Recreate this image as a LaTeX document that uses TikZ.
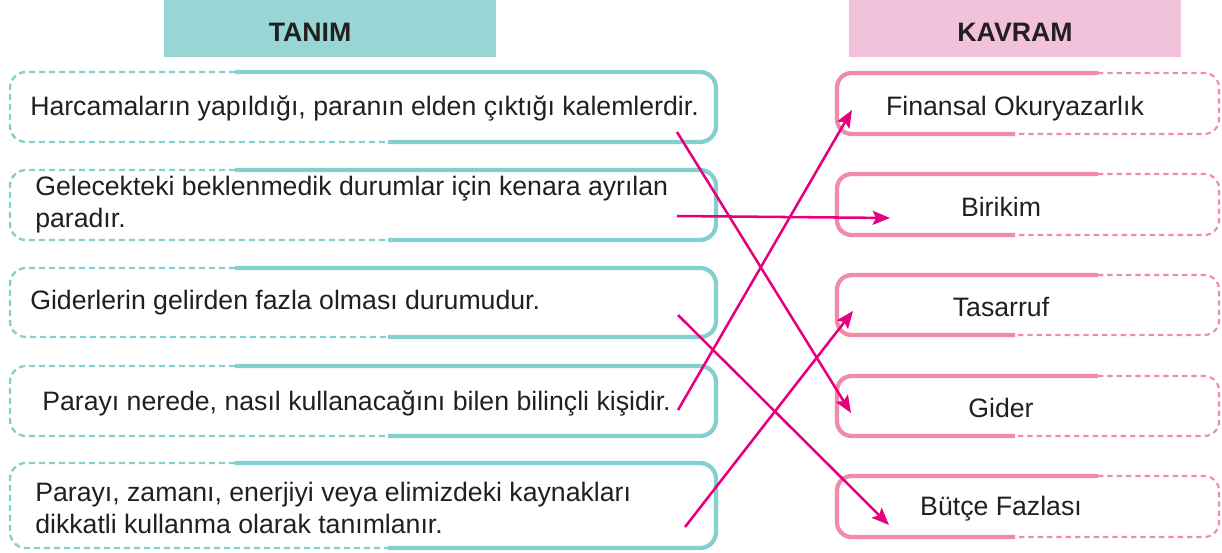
\documentclass[tikz,border=0pt]{standalone}
\usepackage{fontspec}
\setmainfont{Liberation Sans}
\usepackage{xcolor}
\usetikzlibrary{arrows.meta}

\definecolor{tanimrenk}{HTML}{97D6D5}
\definecolor{kavramrenk}{HTML}{F2C1DA}
\definecolor{tanimcizgi}{HTML}{84D0CF}
\definecolor{kavramcizgi}{HTML}{F28BA8}
\definecolor{okrenk}{HTML}{E6007E}
\definecolor{yazirenk}{HTML}{231F20}

\tikzset{
  tanimduz/.style={draw=tanimcizgi, line width=3.2pt, rounded corners=12pt},
  tanimkesik/.style={draw=tanimcizgi, line width=1.8pt, dash pattern={on 4.5pt off 3pt}, rounded corners=12pt},
  kavramduz/.style={draw=kavramcizgi, line width=3.2pt, rounded corners=11pt},
  kavramkesik/.style={draw=kavramcizgi, line width=1.6pt, dash pattern={on 4pt off 3pt}, rounded corners=11pt},
  yazi/.style={inner sep=0pt, text=yazirenk, font=\fontsize{20}{24}\selectfont},
  baslik/.style={inner sep=0pt, text=yazirenk, font=\fontsize{20}{24}\selectfont\bfseries},
  eslesme/.style={draw=okrenk, line width=1.9pt, -{Stealth[length=13pt,width=10.5pt,inset=2.5pt]}}
}

\begin{document}
\begin{tikzpicture}[x=0.75pt,y=0.75pt,yscale=-1,xscale=1]
\useasboundingbox (0,0) rectangle (1222,553);

%Headers
\fill[tanimrenk] (164,0) rectangle (496,57);
\fill[kavramrenk] (849,0) rectangle (1181,57);
\node (tanim) [baslik, anchor=base] at (310,41.5) {TANIM};
\node (kavram) [baslik, anchor=base] at (1015,41.5) {KAVRAM};

%Left boxes (dashed on the left, solid on the right)
\foreach \t/\b in {72/142,170/240,268/337,366/436,463/548}{
  \draw[tanimkesik] (235,\t) -- (10,\t) -- (10,\b) -- (388,\b);
  \draw[tanimduz] (235,\t) -- (716,\t) -- (716,\b) -- (388,\b);
}

%Right boxes (solid on the left, dashed on the right)
\foreach \t/\b in {73/134,174/235,275/335,376/436,476/537}{
  \draw[kavramkesik] (1098,\t) -- (1219,\t) -- (1219,\b) -- (1015,\b);
  \draw[kavramduz] (1098,\t) -- (837,\t) -- (837,\b) -- (1015,\b);
}

% Text Node
\node (t1) [yazi, anchor=base west] at (30,115) {Harcamaların yapıldığı, paranın elden çıktığı kalemlerdir.};
% Text Node
\node (t2) [yazi, anchor=west, align=left] at (35,205) {Gelecekteki beklenmedik durumlar için kenara ayrılan\\paradır.};
% Text Node
\node (t3) [yazi, anchor=base west] at (30,309) {Giderlerin gelirden fazla olması durumudur.};
% Text Node
\node (t4) [yazi, anchor=base west] at (42,410) {Parayı nerede, nasıl kullanacağını bilen bilinçli kişidir.};
% Text Node
\node (t5) [yazi, anchor=west, align=left] at (35,508) {Parayı, zamanı, enerjiyi veya elimizdeki kaynakları\\dikkatli kullanma olarak tanımlanır.};

% Text Node
\node (k1) [yazi, anchor=base] at (1015,115) {Finansal Okuryazarlık};
% Text Node
\node (k2) [yazi, anchor=base] at (1001,216) {Birikim};
% Text Node
\node (k3) [yazi, anchor=base] at (1001,316) {Tasarruf};
% Text Node
\node (k4) [yazi, anchor=base] at (1001,417) {Gider};
% Text Node
\node (k5) [yazi, anchor=base] at (1001,515) {Bütçe Fazlası};

%Matching arrows
\coordinate (c1) at (677,132);
\coordinate (c2) at (677,216);
\coordinate (c3) at (678,315);
\coordinate (c4) at (678,410);
\coordinate (c5) at (685,527);
\coordinate (d1) at (852,110);
\coordinate (d2) at (890,218);
\coordinate (d3) at (853,311);
\coordinate (d4) at (851,413);
\coordinate (d5) at (889,525);
\draw[eslesme] (c1) -- (d4);
\draw[eslesme] (c2) -- (d2);
\draw[eslesme] (c3) -- (d5);
\draw[eslesme] (c4) -- (d1);
\draw[eslesme] (c5) -- (d3);

\end{tikzpicture}
\end{document}
